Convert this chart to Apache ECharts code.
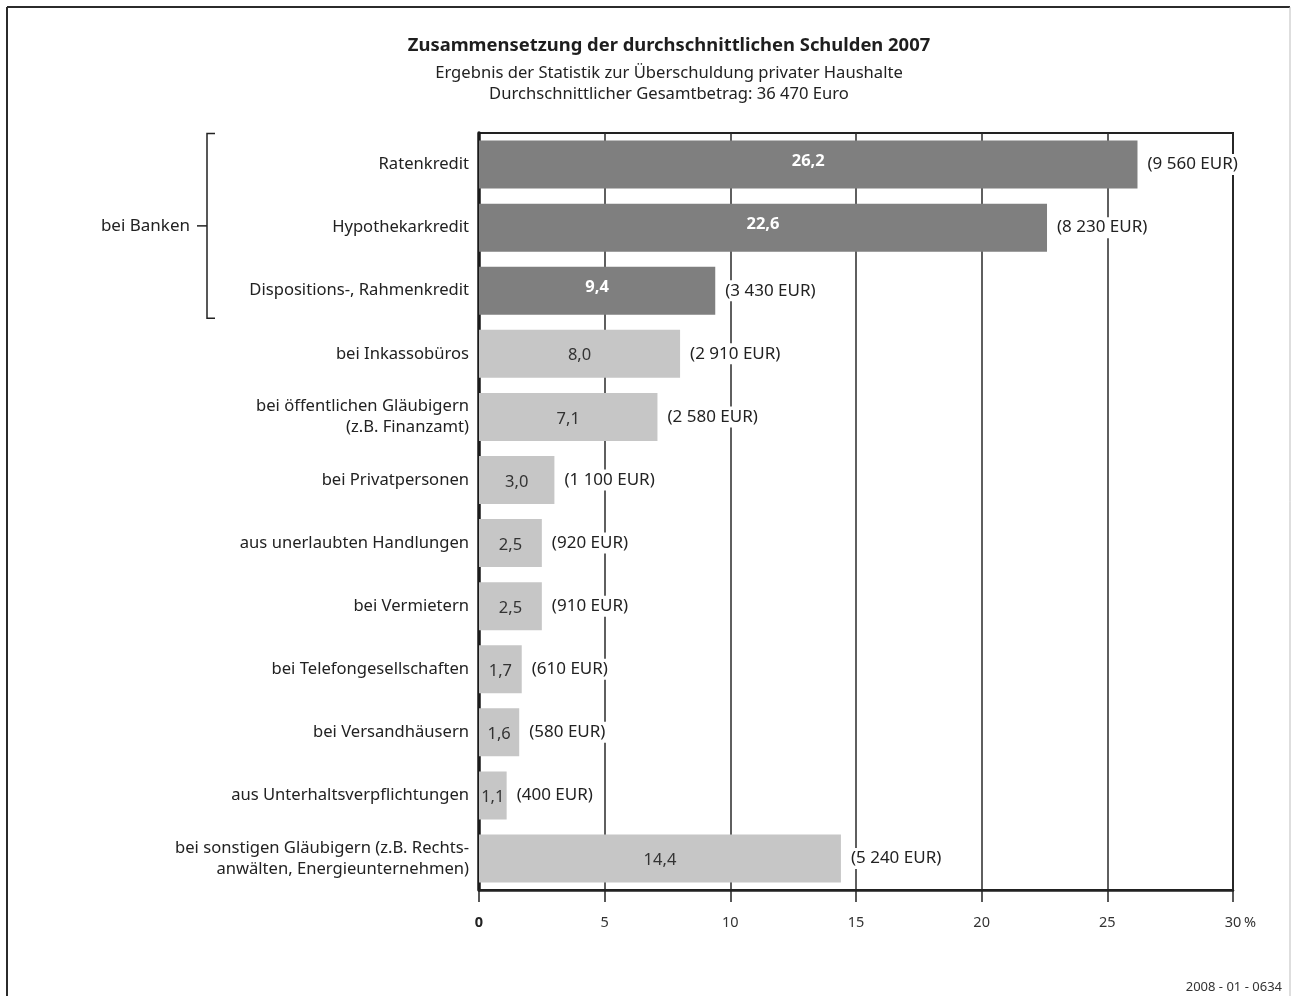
<!DOCTYPE html>
<html>
<head>
<meta charset="utf-8">
<script src="https://cdn.jsdelivr.net/npm/echarts@6/dist/echarts.min.js"></script>
<style>
  html, body { margin: 0; padding: 0; background: #fff; }
  #chart { width: 1292px; height: 996px; }
</style>
</head>
<body>
<div id="chart"></div>
<script>
// Debt categories (top to bottom)
const categories = [
  'Ratenkredit',
  'Hypothekarkredit',
  'Dispositions-, Rahmenkredit',
  'bei Inkassobüros',
  'bei öffentlichen Gläubigern\n(z.B. Finanzamt)',
  'bei Privatpersonen',
  'aus unerlaubten Handlungen',
  'bei Vermietern',
  'bei Telefongesellschaften',
  'bei Versandhäusern',
  'aus Unterhaltsverpflichtungen',
  'bei sonstigen Gläubigern (z.B. Rechts-\nanwälten, Energieunternehmen)'
];
// Share of average total debt, in percent
const shares = [26.2, 22.6, 9.4, 8.0, 7.1, 3.0, 2.5, 2.5, 1.7, 1.6, 1.1, 14.4];
// Average amount in EUR
const amounts = [9560, 8230, 3430, 2910, 2580, 1100, 920, 910, 610, 580, 400, 5240];
// Creditor group per category
const groups = ['bank', 'bank', 'bank', 'other', 'other', 'other', 'other', 'other', 'other', 'other', 'other', 'other'];
const xTicks = [0, 5, 10, 15, 20, 25, 30];

const FONT = '"Noto Sans", "Open Sans", sans-serif';
const groupColor = { bank: '#7f7f7f', other: '#c6c6c6' };

const fmtPct = v => v.toFixed(1).replace('.', ',');
const fmtEur = v => String(v).replace(/\B(?=(\d{3})+(?!\d))/g, ' ');

const chart = echarts.init(document.getElementById('chart'), null, { renderer: 'canvas' });

const option = {
  backgroundColor: '#fff',
  animation: false,
  textStyle: { fontFamily: FONT },
  grid: {
    left: 479, right: 59, top: 133, bottom: 106,
    show: true, borderWidth: 2, borderColor: '#222', backgroundColor: 'transparent'
  },
  xAxis: {
    type: 'value',
    min: xTicks[0], max: xTicks[xTicks.length - 1], interval: 5,
    axisLine: { show: true, lineStyle: { color: '#222', width: 2.5 } },
    axisTick: { show: true, length: 12, lineStyle: { color: '#222', width: 1.5 } },
    splitLine: { show: true, lineStyle: { color: '#2a2a2a', width: 1.5 } },
    axisLabel: {
      margin: 25,
      fontFamily: FONT, fontSize: 14.5, color: '#333',
      formatter: v => v === 0 ? '{b|0}' : '{n|' + v + '}',
      rich: {
        b: { fontFamily: FONT, fontSize: 14.5, fontWeight: 'bold', color: '#222', padding: [0, 0, 6, 0] },
        n: { fontFamily: FONT, fontSize: 14.5, color: '#333' }
      }
    }
  },
  yAxis: {
    type: 'category',
    data: categories,
    inverse: true,
    axisLine: { show: true, lineStyle: { color: '#1a1a1a', width: 3.5 } },
    axisTick: { show: false },
    splitLine: { show: false },
    axisLabel: {
      margin: 10,
      fontFamily: FONT, fontSize: 16.6, color: '#222', lineHeight: 21, align: 'right'
    }
  },
  series: [
    {
      type: 'bar',
      barWidth: 48,
      z: 3,
      data: shares.map((v, i) => ({
        value: v,
        itemStyle: { color: groupColor[groups[i]] },
        label: groups[i] === 'bank'
          ? { color: '#fff', fontWeight: 'bold', offset: [0, -3] }
          : { color: '#333', fontWeight: 'normal', offset: [0, 2] }
      })),
      label: {
        show: true, position: 'inside',
        fontFamily: FONT, fontSize: 16.5,
        formatter: p => fmtPct(p.value)
      }
    },
    {
      // transparent overlay carrying the EUR amount next to each bar
      type: 'bar',
      barWidth: 48,
      barGap: '-100%',
      z: 4,
      silent: true,
      itemStyle: { color: 'rgba(0,0,0,0)' },
      data: shares,
      label: {
        show: true, position: 'right', distance: 8,
        fontFamily: FONT, fontSize: 17, color: '#222',
        backgroundColor: '#fff', padding: [2, 2, 2, 2],
        formatter: p => '(' + fmtEur(amounts[p.dataIndex]) + ' EUR)'
      }
    }
  ],
  graphic: []
};
chart.setOption(option);

// Bracket spanning the bank categories, placed from the category axis
const bankIdx = groups.map((g, i) => g === 'bank' ? i : -1).filter(i => i >= 0);
const firstY = chart.convertToPixel({ yAxisIndex: 0 }, categories[bankIdx[0]]);
const lastY = chart.convertToPixel({ yAxisIndex: 0 }, categories[bankIdx[bankIdx.length - 1]]);
const half = (chart.convertToPixel({ yAxisIndex: 0 }, categories[1]) - chart.convertToPixel({ yAxisIndex: 0 }, categories[0])) / 2;
const bTop = firstY - half + 0.5;
const bBot = lastY + half - 4;
const bX = 207;
const bMid = (bTop + bBot) / 2;
const xPct = chart.convertToPixel({ xAxisIndex: 0 }, xTicks[xTicks.length - 1]);
const axisY = chart.getHeight() - 106;

chart.setOption({
  graphic: [
    // outer frame
    { type: 'line', shape: { x1: 7, y1: 7, x2: 1290, y2: 7 }, style: { stroke: '#2b2b2b', lineWidth: 2 } },
    { type: 'line', shape: { x1: 7, y1: 7, x2: 7, y2: 996 }, style: { stroke: '#2b2b2b', lineWidth: 2 } },
    { type: 'line', shape: { x1: 1290, y1: 7, x2: 1290, y2: 996 }, style: { stroke: '#bdbdbd', lineWidth: 1 } },
    // titles
    { type: 'text', style: {
        text: 'Zusammensetzung der durchschnittlichen Schulden 2007', x: 669, y: 46,
        textAlign: 'center', textVerticalAlign: 'middle',
        font: 'bold 18.4px ' + FONT, fill: '#1e1e1e' } },
    { type: 'text', style: {
        text: 'Ergebnis der Statistik zur Überschuldung privater Haushalte', x: 669, y: 73,
        textAlign: 'center', textVerticalAlign: 'middle',
        font: '16.6px ' + FONT, fill: '#222' } },
    { type: 'text', style: {
        text: 'Durchschnittlicher Gesamtbetrag: 36 470 Euro', x: 669, y: 94,
        textAlign: 'center', textVerticalAlign: 'middle',
        font: '16.6px ' + FONT, fill: '#222' } },
    // bank bracket
    { type: 'polyline', shape: { points: [[bX + 8, bTop], [bX, bTop], [bX, bBot], [bX + 8, bBot]] },
      style: { stroke: '#222', lineWidth: 1.5, fill: null } },
    { type: 'line', shape: { x1: bX - 10, y1: bMid, x2: bX, y2: bMid }, style: { stroke: '#222', lineWidth: 1.5 } },
    { type: 'text', style: {
        text: 'bei Banken', x: bX - 17, y: bMid,
        textAlign: 'right', textVerticalAlign: 'middle',
        font: '17px ' + FONT, fill: '#222' } },
    // percent sign after the last tick value
    { type: 'text', style: {
        text: '%', x: xPct + 11, y: axisY + 33,
        textAlign: 'left', textVerticalAlign: 'middle',
        font: '14.5px ' + FONT, fill: '#333' } },
    // document code
    { type: 'text', style: {
        text: '2008 - 01 - 0634', x: 1282, y: 987,
        textAlign: 'right', textVerticalAlign: 'middle',
        font: '13px ' + FONT, fill: '#333' } }
  ]
});
</script>
</body>
</html>
